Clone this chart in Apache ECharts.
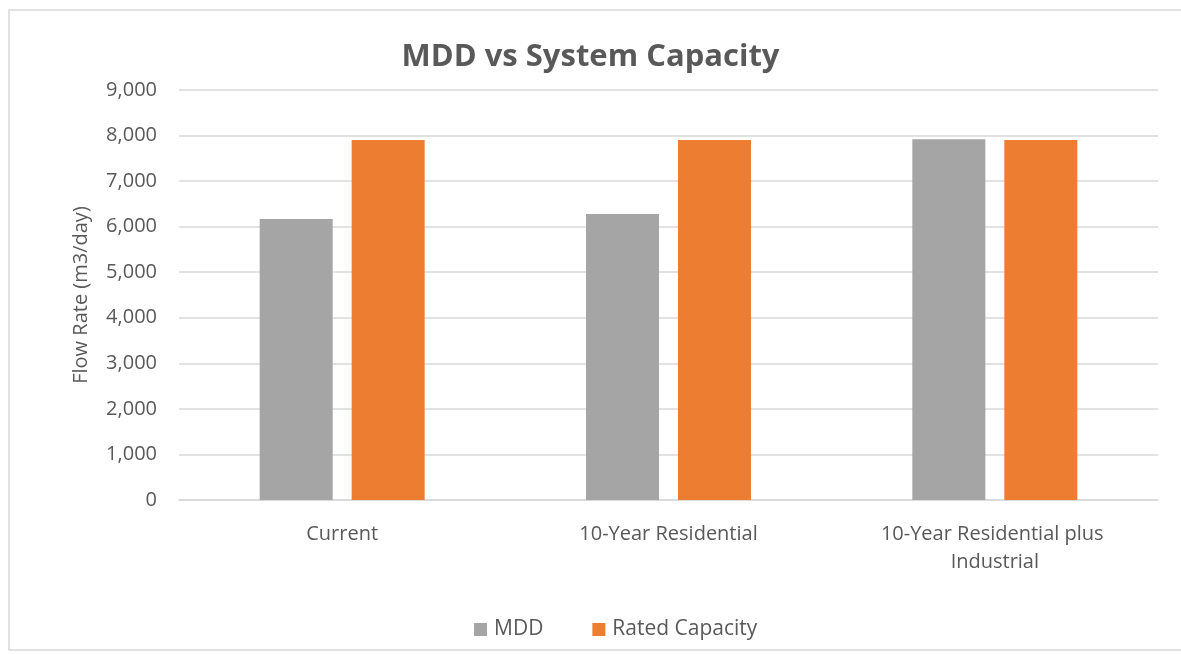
<!DOCTYPE html>
<html>
<head>
<meta charset="utf-8">
<script src="https://cdn.jsdelivr.net/npm/echarts@6/dist/echarts.min.js"></script>
<style>
html,body{margin:0;padding:0;background:#fff;}
#chart{width:1181px;height:654px;}
</style>
</head>
<body>
<div id="chart"></div>
<script>
var categories = ['Current', '10-Year Residential', '10-Year Residential plus Industrial'];
var mddValues = [6170, 6280, 7920];
var ratedCapacityValues = [7900, 7900, 7900];
var seriesNames = ['MDD', 'Rated Capacity'];
var yTicks = {min: 0, max: 9000, interval: 1000};

var FONT = '"Open Sans", sans-serif';
var TXT = '#595959';
var chart = echarts.init(document.getElementById('chart'));
chart.setOption({
  animation: false,
  backgroundColor: '#fff',
  graphic: [{
    type: 'rect', z: -1,
    shape: {x: 9, y: 10, width: 1190, height: 640},
    style: {fill: '#fff', stroke: '#d9d9d9', lineWidth: 1.5}
  }],
  title: {
    text: 'MDD vs System Capacity',
    left: 'center', top: 37,
    textStyle: {fontFamily: FONT, fontSize: 31, fontWeight: 'bold', color: TXT}
  },
  legend: {
    data: seriesNames,
    bottom: 9, left: 469,
    itemWidth: 13, itemHeight: 13, itemGap: 49,
    icon: 'rect',
    textStyle: {fontFamily: FONT, fontSize: 21, color: TXT, padding: [0, 0, 0, 2]}
  },
  grid: {left: 179, right: 23, top: 90, bottom: 154},
  xAxis: {
    type: 'category',
    data: categories,
    axisLine: {show: true, lineStyle: {color: '#d9d9d9', width: 1.5}},
    axisTick: {show: false},
    axisLabel: {
      fontFamily: FONT, fontSize: 20, color: TXT, margin: 20,
      width: 262, overflow: 'break', lineHeight: 28, interval: 0
    }
  },
  yAxis: {
    type: 'value',
    min: yTicks.min, max: yTicks.max, interval: yTicks.interval,
    name: 'Flow Rate (m3/day)',
    nameLocation: 'middle', nameGap: 88, nameRotate: 90,
    nameTextStyle: {fontFamily: FONT, fontSize: 20, color: TXT},
    axisLine: {show: false},
    axisTick: {show: false},
    axisLabel: {
      fontFamily: FONT, fontSize: 20, color: TXT, margin: 22,
      formatter: function (v) { return v.toLocaleString('en-US'); }
    },
    splitLine: {lineStyle: {color: '#d9d9d9', width: 1.5}}
  },
  series: [{
    name: seriesNames[0], type: 'bar', data: mddValues,
    barWidth: 73, barGap: '26%',
    itemStyle: {color: '#a5a5a5'}
  }, {
    name: seriesNames[1], type: 'bar', data: ratedCapacityValues,
    barWidth: 73, barGap: '26%',
    itemStyle: {color: '#ed7d31'}
  }]
});
</script>
</body>
</html>
